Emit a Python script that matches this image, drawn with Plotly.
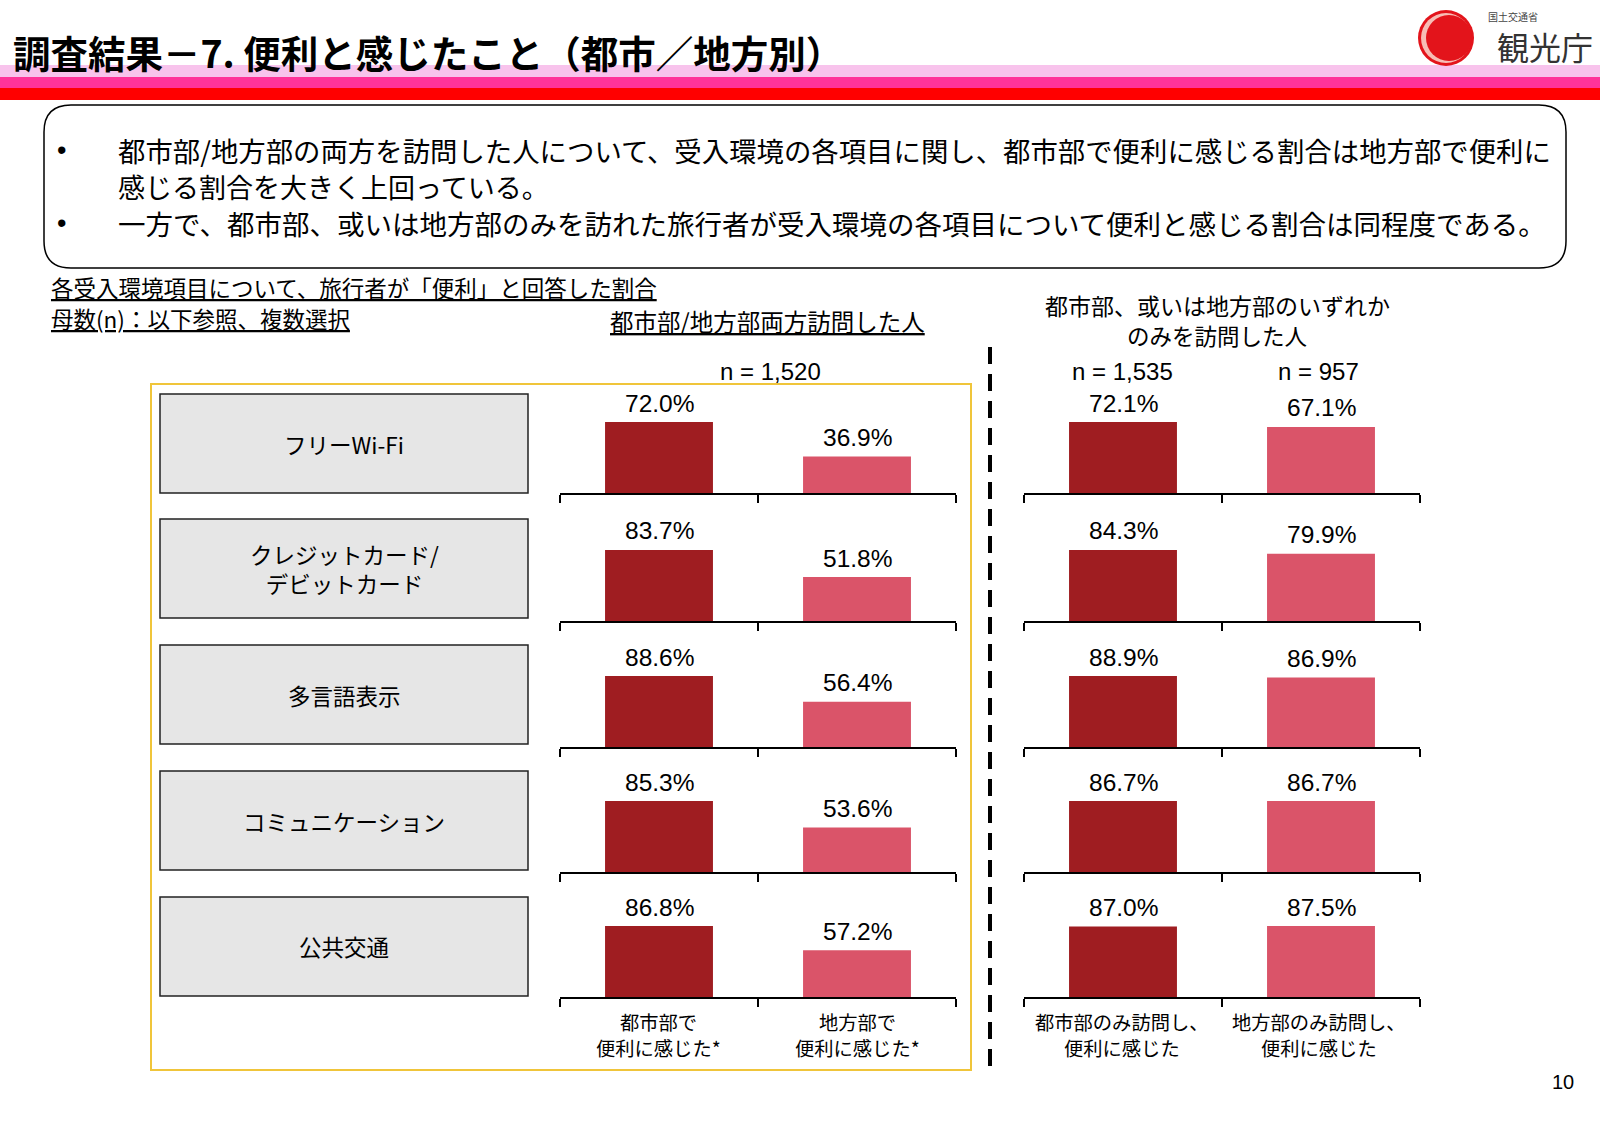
import plotly.graph_objects as go

W, H = 1600, 1132

# ---------------- data ----------------
categories = ["フリーWi-Fi", "クレジットカード/<br>デビットカード", "多言語表示", "コミュニケーション", "公共交通"]
both_city = [72.0, 83.7, 88.6, 85.3, 86.8]     # 都市部で便利に感じた*
both_rural = [36.9, 51.8, 56.4, 53.6, 57.2]    # 地方部で便利に感じた*
only_city = [72.1, 84.3, 88.9, 86.7, 87.0]     # 都市部のみ訪問し、便利に感じた
only_rural = [67.1, 79.9, 86.9, 86.7, 87.5]    # 地方部のみ訪問し、便利に感じた
left_labels = ["都市部で<br>便利に感じた*", "地方部で<br>便利に感じた*"]
right_labels = ["都市部のみ訪問し、<br>便利に感じた", "地方部のみ訪問し、<br>便利に感じた"]
n_both = "n = 1,520"
n_city_only = "n = 1,535"
n_rural_only = "n = 957"

title = "調査結果－7. 便利と感じたこと（都市／地方別）"
bullets = [
    "都市部/地方部の両方を訪問した人について、受入環境の各項目に関し、都市部で便利に感じる割合は地方部で便利に",
    "感じる割合を大きく上回っている。",
    "一方で、都市部、或いは地方部のみを訪れた旅行者が受入環境の各項目について便利と感じる割合は同程度である。",
]

# ---------------- style ----------------
JP = "Noto Sans CJK JP"
LAT = "Liberation Sans, Arial, Noto Sans CJK JP"
DARK = "#9F1D21"
PINK = "#DA5469"


def X(px):
    return px / W


def Y(py):
    return 1 - py / H


fig = go.Figure()
layout = {}
annotations = []

baselines = [493, 621, 747, 872, 997]
panel_h = 100
max_frac = 0.71
doms = [(560, 956), (1024, 1420)]
series = [(both_city, both_rural), (only_city, only_rural)]

idx = 0
for r in range(5):
    for c in range(2):
        idx += 1
        sfx = "" if idx == 1 else str(idx)
        ys = [series[c][0][r], series[c][1][r]]
        fig.add_trace(go.Bar(
            x=[0, 1], y=ys, xaxis="x" + sfx, yaxis="y" + sfx,
            width=0.545,
            marker=dict(color=[DARK, PINK], line=dict(width=0)),
            cliponaxis=False, hoverinfo="skip", showlegend=False,
        ))
        for xi, v in enumerate(ys):
            annotations.append(dict(
                xref="x" + sfx, yref="y" + sfx, x=xi, y=v, text=f"{v:.1f}%",
                showarrow=False, xanchor="center", yanchor="middle", yshift=19,
                font=dict(size=24.5, family=LAT, color="black")))
        d0, d1 = doms[c]
        layout["xaxis" + sfx] = dict(
            domain=[X(d0), X(d1)], range=[-0.5, 1.5], anchor="y" + sfx,
            showgrid=False, zeroline=False, showline=True,
            linecolor="black", linewidth=1.5,
            ticks="outside", tickmode="array", tickvals=[-0.5, 0.5, 1.5],
            ticklen=8, tickwidth=1.5, tickcolor="black",
            showticklabels=False, fixedrange=True,
        )
        layout["yaxis" + sfx] = dict(
            domain=[Y(baselines[r]), Y(baselines[r] - panel_h)],
            range=[0, max(ys) / max_frac], anchor="x" + sfx,
            visible=False, fixedrange=True,
        )

shapes = []


def rect(x0, y0, x1, y1, **kw):
    shapes.append(dict(type="rect", xref="paper", yref="paper",
                       x0=X(x0), x1=X(x1), y0=Y(y1), y1=Y(y0), **kw))


def circle(cx, cy, r, **kw):
    shapes.append(dict(type="circle", xref="paper", yref="paper",
                       x0=X(cx - r), x1=X(cx + r), y0=Y(cy + r), y1=Y(cy - r), **kw))


# header bands
rect(0, 65, W, 77, fillcolor="#F8C3EC", line=dict(width=0), layer="below")
rect(0, 77, W, 88, fillcolor="#FF3399", line=dict(width=0), layer="below")
rect(0, 88, W, 100, fillcolor="#FF0000", line=dict(width=0), layer="below")

# rounded text box
bx0, by0, bx1, by1, rr = 44, 105, 1566, 268, 27
path = (f"M {X(bx0 + rr)},{Y(by0)} L {X(bx1 - rr)},{Y(by0)} "
        f"Q {X(bx1)},{Y(by0)} {X(bx1)},{Y(by0 + rr)} "
        f"L {X(bx1)},{Y(by1 - rr)} Q {X(bx1)},{Y(by1)} {X(bx1 - rr)},{Y(by1)} "
        f"L {X(bx0 + rr)},{Y(by1)} Q {X(bx0)},{Y(by1)} {X(bx0)},{Y(by1 - rr)} "
        f"L {X(bx0)},{Y(by0 + rr)} Q {X(bx0)},{Y(by0)} {X(bx0 + rr)},{Y(by0)} Z")
shapes.append(dict(type="path", xref="paper", yref="paper", path=path,
                   line=dict(color="black", width=1.5), fillcolor="white"))

# yellow frame
rect(151, 384, 971, 1070, line=dict(color="#F0C53A", width=2), fillcolor="rgba(0,0,0,0)")

# category boxes
box_tops = [394, 519, 645, 771, 897]
for t in box_tops:
    rect(160, t, 528, t + 99, line=dict(color="#222222", width=1.5), fillcolor="#E6E6E6")

# dashed divider
shapes.append(dict(type="line", xref="paper", yref="paper",
                   x0=X(990), x1=X(990), y0=Y(347), y1=Y(1066),
                   line=dict(color="black", width=4, dash="17px,10px")))

# logo
circle(1446, 38, 28, fillcolor="#E3141B", line=dict(width=0))
circle(1446, 38, 25, fillcolor="#F7BDB5", line=dict(width=0))
circle(1449, 38, 23, fillcolor="#E3141B", line=dict(width=0))


def text(x, y, s, size, family=JP, xanchor="center", color="black", weight="normal", align="center"):
    annotations.append(dict(xref="paper", yref="paper", x=X(x), y=Y(y), text=s,
                            showarrow=False, xanchor=xanchor, yanchor="middle", align=align,
                            borderpad=0,
                            font=dict(size=size, family=family, color=color, weight=weight)))


text(12, 52, title, 37.5, xanchor="left", weight="bold")
text(1513, 17, "国土交通省", 10, color="#444444")
text(1545, 46, "観光庁", 32, color="#333333")

text(61, 150, "•", 27, family=LAT)
text(61, 223, "•", 27, family=LAT)
text(117, 150, bullets[0], 27.4, xanchor="left")
text(117, 186, bullets[1], 27.0, xanchor="left")
text(117, 223, bullets[2], 27.5, xanchor="left")

text(50, 287, "<u>各受入環境項目について、旅行者が「便利」と回答した割合</u>", 22.5, xanchor="left")
text(50, 318, "<u>母数(n)：以下参照、複数選択</u>", 22.5, xanchor="left")
text(767, 321, "<u>都市部/地方部両方訪問した人</u>", 23.5)
text(1217, 305, "都市部、或いは地方部のいずれか", 23)
text(1217, 335, "のみを訪問した人", 22.5)
text(770, 371, n_both, 24, family=LAT)
text(1122, 371, n_city_only, 24, family=LAT)
text(1318, 371, n_rural_only, 24, family=LAT)

for t, cat in zip(box_tops, categories):
    text(344, t + 49.5, cat, 22.5)

for cx, lab in list(zip([658, 857], left_labels)) + list(zip([1122, 1319], right_labels)):
    for k, line in enumerate(lab.split("<br>")):
        text(cx, 1022 + 26 * k, line, 19.3)

text(1563, 1082, "10", 20, family=LAT)

fig.update_layout(
    width=W, height=H, margin=dict(l=0, r=0, t=0, b=0),
    paper_bgcolor="white", plot_bgcolor="rgba(0,0,0,0)",
    shapes=shapes, annotations=annotations, showlegend=False,
    **layout,
)

fig.write_html("out.html")
